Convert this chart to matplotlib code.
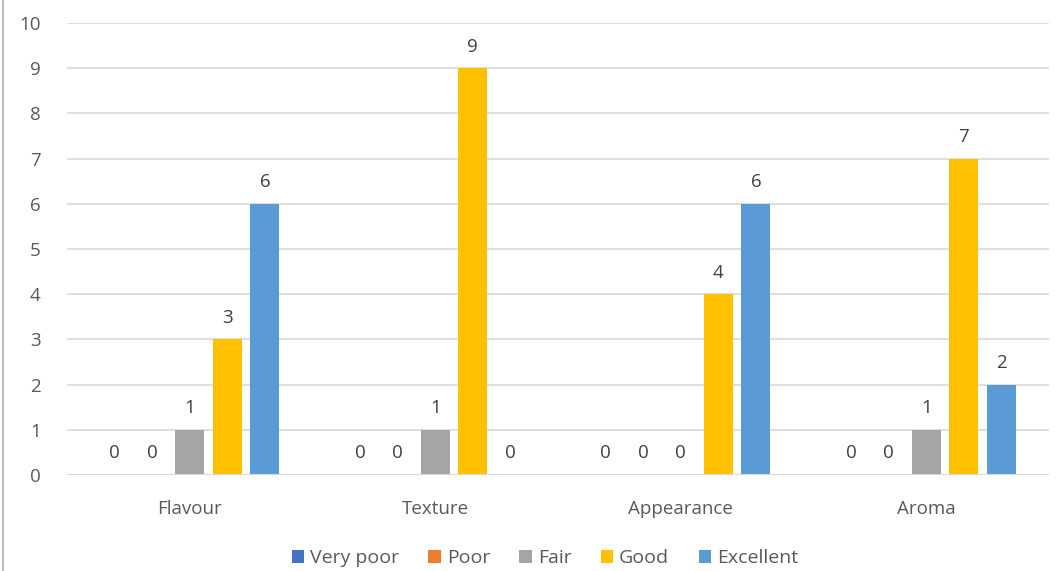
import numpy as np
import matplotlib.pyplot as plt
from matplotlib.lines import Line2D
from matplotlib.patches import Patch

plt.rcParams['font.family'] = ['Open Sans', 'DejaVu Sans']

categories = ['Flavour', 'Texture', 'Appearance', 'Aroma']
series_names = ['Very poor', 'Poor', 'Fair', 'Good', 'Excellent']
very_poor = [0, 0, 0, 0]
poor = [0, 0, 0, 0]
fair = [1, 1, 0, 1]
good = [3, 9, 4, 7]
excellent = [6, 0, 6, 2]
series_values = [very_poor, poor, fair, good, excellent]
colors = ['#4472C4', '#ED7D31', '#A5A5A5', '#FFC000', '#5B9BD5']
yticks = list(range(0, 11))

text_color = '#595959'

fig = plt.figure(figsize=(10.58, 5.71), dpi=100)
ax = fig.add_axes([0.0633, 0.168, 0.9282, 0.7917])

x = np.arange(len(categories))
slot = 0.153
bar_w = 0.119

for i, (name, vals) in enumerate(zip(series_names, series_values)):
    pos = x + (i - 2) * slot
    ax.bar(pos, vals, width=bar_w, color=colors[i], zorder=3, label=name)
    for p, v in zip(pos, vals):
        ax.text(p, v + 0.28, f'{v}', ha='center', va='bottom',
                fontsize=13.5, color='#404040')

ax.set_xlim(-0.5, len(categories) - 0.5)
ax.set_ylim(0, 10)
ax.set_yticks(yticks)
ax.set_xticks(x)
ax.set_xticklabels(categories)
ax.yaxis.grid(True, color='#d9d9d9', linewidth=1.2, zorder=0)
ax.axhline(0, color='#d9d9d9', linewidth=1.5, zorder=4)
for s in ax.spines.values():
    s.set_visible(False)
ax.tick_params(axis='both', length=0, labelsize=13.5, colors=text_color)
ax.tick_params(axis='x', pad=18)
ax.tick_params(axis='y', pad=19)

handles = [Patch(facecolor=c, label=n) for c, n in zip(colors, series_names)]
fig.legend(handles=handles, loc='center', bbox_to_anchor=(0.515, 0.023),
           ncol=5, frameon=False, fontsize=14, handlelength=0.65,
           handleheight=0.65, handletextpad=0.3, columnspacing=1.5,
           labelcolor=text_color)

fig.add_artist(Line2D([0.003, 0.003], [0, 1], transform=fig.transFigure,
                      color='#bfbfbf', linewidth=1.5))

fig.savefig('out.png', dpi=100)
